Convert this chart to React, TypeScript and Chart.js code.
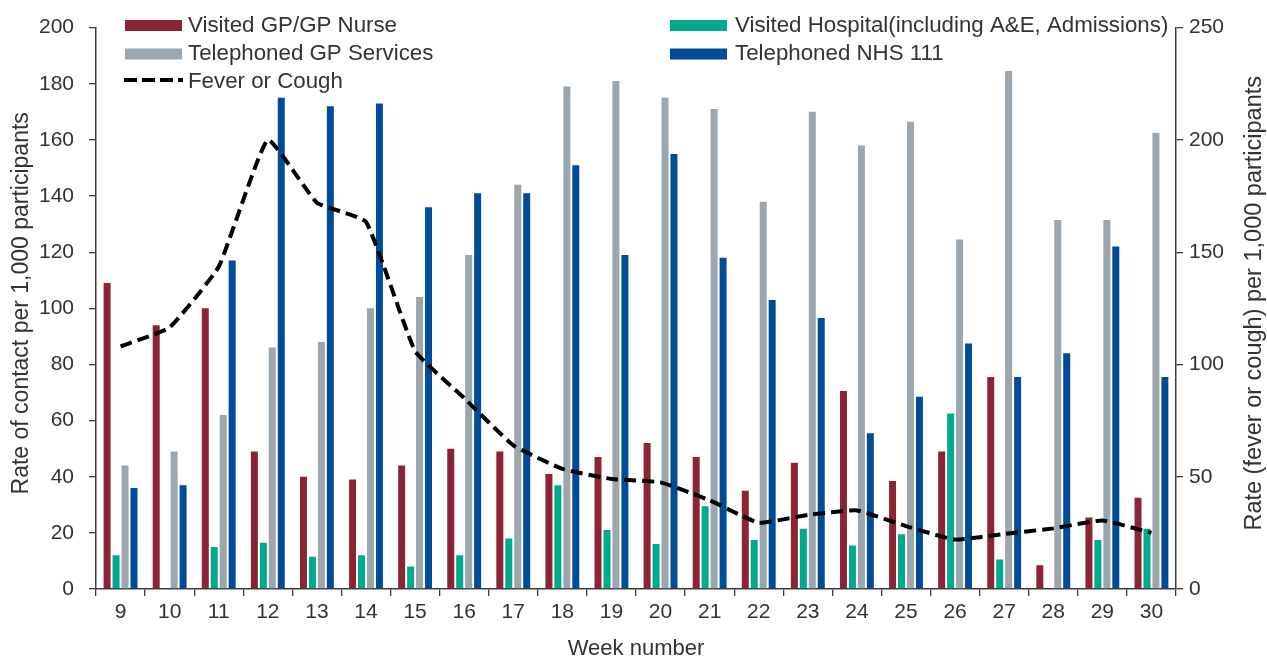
import React, { useEffect, useRef } from 'react';
import { Chart, registerables } from 'chart.js';

Chart.register(...registerables);

const weeks = ['9', '10', '11', '12', '13', '14', '15', '16', '17', '18', '19', '20', '21', '22', '23', '24', '25', '26', '27', '28', '29', '30'];

const visitedGP = [109, 94, 100, 49, 40, 39, 44, 50, 49, 41, 47, 52, 47, 35, 45, 70.5, 38.5, 49, 75.5, 8.5, 25.5, 32.5];
const visitedHospital = [12, 0, 15, 16.5, 11.5, 12, 8, 12, 18, 37, 21, 16, 29.5, 17.5, 21.5, 15.5, 19.5, 62.5, 10.5, 0, 17.5, 21.5];
const telephonedGP = [44, 49, 62, 86, 88, 100, 104, 119, 144, 179, 181, 175, 171, 138, 170, 158, 166.5, 124.5, 184.5, 131.5, 131.5, 162.5];
const telephonedNHS111 = [36, 37, 117, 175, 172, 173, 136, 141, 141, 151, 119, 155, 118, 103, 96.5, 55.5, 68.5, 87.5, 75.5, 84, 122, 75.5];
const feverOrCough = [108, 116.5, 143.5, 200, 172, 163.5, 106, 85, 64, 53.5, 49, 47.5, 39.5, 29.5, 33, 35, 28, 22, 24.5, 27, 30.5, 25];

const leftAxisRange = [0, 200];
const leftAxisStep = 20;
const rightAxisRange = [0, 250];
const rightAxisStep = 50;

const seriesNames = [
  'Visited GP/GP Nurse',
  'Visited Hospital(including A&E, Admissions)',
  'Telephoned GP Services',
  'Telephoned NHS 111',
  'Fever or Cough',
];

const leftTitle = 'Rate of contact per 1,000 participants';
const rightTitle = 'Rate (fever or cough) per 1,000 participants';
const xTitle = 'Week number';

const FONT = "'Liberation Sans', Arial, Helvetica, sans-serif";
const TEXT = '#333333';
const AXIS = '#3c3c3c';
const RED = '#8B2535';
const GREEN = '#00AA8C';
const GRAY = '#9BA6AF';
const BLUE = '#004C97';

const overlayPlugin = {
  id: 'overlay',
  afterDraw(chart: any) {
    const ctx: CanvasRenderingContext2D = chart.ctx;
    const area = chart.chartArea;
    ctx.save();
    ctx.fillStyle = TEXT;
    ctx.font = `22.3px ${FONT}`;
    ctx.textBaseline = 'alphabetic';
    ctx.textAlign = 'left';

    const boxes = [
      { color: RED, label: seriesNames[0], sx: 125, tx: 188, cy: 25.5, by: 31.5 },
      { color: GRAY, label: seriesNames[2], sx: 125, tx: 188, cy: 54, by: 59.5 },
      { color: GREEN, label: seriesNames[1], sx: 670, tx: 735, cy: 25.5, by: 31.5 },
      { color: BLUE, label: seriesNames[3], sx: 670, tx: 735, cy: 54, by: 59.5 },
    ];
    boxes.forEach((b) => {
      ctx.fillStyle = b.color;
      ctx.fillRect(b.sx, b.cy - 5.5, 57, 11);
      ctx.fillStyle = TEXT;
      ctx.fillText(b.label, b.tx, b.by);
    });
    ctx.strokeStyle = '#000';
    ctx.lineWidth = 4;
    ctx.setLineDash([13, 5]);
    ctx.beginPath();
    ctx.moveTo(124, 80);
    ctx.lineTo(183, 80);
    ctx.stroke();
    ctx.setLineDash([]);
    ctx.fillStyle = TEXT;
    ctx.fillText(seriesNames[4], 188, 88);

    const midY = (area.top + area.bottom) / 2 - 5;
    ctx.textAlign = 'center';
    ctx.font = `23px ${FONT}`;
    ctx.save();
    ctx.translate(28, midY);
    ctx.rotate(-Math.PI / 2);
    ctx.fillText(leftTitle, 0, 0);
    ctx.restore();

    ctx.font = `23.5px ${FONT}`;
    ctx.save();
    ctx.translate(1261, midY);
    ctx.rotate(-Math.PI / 2);
    ctx.fillText(rightTitle, 0, 0);
    ctx.restore();

    ctx.font = `22px ${FONT}`;
    ctx.fillText(xTitle, (area.left + area.right) / 2, 655);
    ctx.restore();
  },
};

export default function App() {
  const ref = useRef<HTMLCanvasElement>(null);
  useEffect(() => {
    if (!ref.current) return;
    const tickFont = { family: FONT, size: 21 };
    const gridBase = {
      display: true,
      drawOnChartArea: false,
      drawTicks: true,
      tickLength: 7,
      color: AXIS,
      lineWidth: 1.3,
    };
    const barCommon = {
      yAxisID: 'y',
      categoryPercentage: 0.73,
      barPercentage: 0.78,
      order: 1,
    };
    const chart = new Chart(ref.current, {
      type: 'bar',
      data: {
        labels: weeks,
        datasets: [
          { ...barCommon, label: seriesNames[0], data: visitedGP, backgroundColor: RED },
          { ...barCommon, label: seriesNames[1], data: visitedHospital, backgroundColor: GREEN },
          { ...barCommon, label: seriesNames[2], data: telephonedGP, backgroundColor: GRAY },
          { ...barCommon, label: seriesNames[3], data: telephonedNHS111, backgroundColor: BLUE },
          {
            type: 'line',
            label: seriesNames[4],
            data: feverOrCough,
            yAxisID: 'y2',
            borderColor: '#000000',
            backgroundColor: '#000000',
            borderWidth: 4,
            borderDash: [12, 6],
            pointRadius: 0,
            tension: 0.12,
            fill: false,
            order: 0,
          } as any,
        ],
      },
      options: {
        animation: false,
        responsive: true,
        maintainAspectRatio: false,
        layout: { padding: { top: 25, left: 0, right: 0, bottom: 0 }, autoPadding: false } as any,
        plugins: {
          legend: { display: false },
          tooltip: { enabled: false },
          title: { display: false },
        },
        scales: {
          x: {
            type: 'category',
            grid: { ...gridBase, offset: true },
            border: { display: true, color: AXIS, width: 1.5 },
            ticks: { font: tickFont, color: TEXT, padding: 4, maxRotation: 0, autoSkip: false },
            afterFit: (s: any) => { s.height = 68; },
          },
          y: {
            position: 'left',
            min: leftAxisRange[0],
            max: leftAxisRange[1],
            grid: gridBase,
            border: { display: true, color: AXIS, width: 1.5 },
            ticks: { stepSize: leftAxisStep, font: tickFont, color: TEXT, padding: 15 },
            afterFit: (s: any) => { s.width = 96; },
          },
          y2: {
            position: 'right',
            min: rightAxisRange[0],
            max: rightAxisRange[1],
            grid: gridBase,
            border: { display: true, color: AXIS, width: 1.5 },
            ticks: { stepSize: rightAxisStep, font: tickFont, color: TEXT, padding: 6 },
            afterFit: (s: any) => { s.width = 91; },
          },
        },
      },
      plugins: [overlayPlugin],
    });
    return () => chart.destroy();
  }, []);

  return (
    <div style={{ position: 'fixed', left: 0, top: 0, width: 1267, height: 657, background: '#fff' }}>
      <canvas ref={ref} style={{ display: 'block' }} />
    </div>
  );
}
